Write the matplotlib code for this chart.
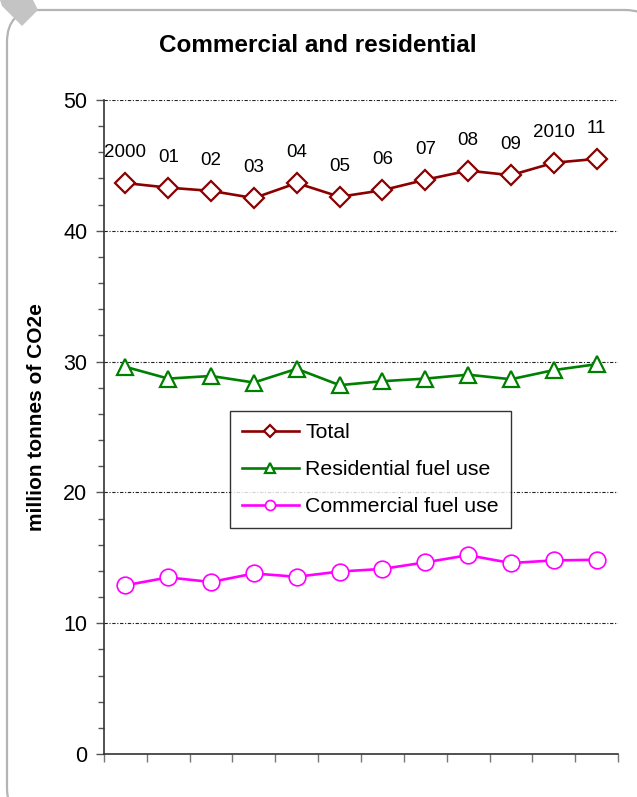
import matplotlib.pyplot as plt
import matplotlib.patches as patches
from matplotlib.ticker import MultipleLocator

# datos
years = ['2000', '01', '02', '03', '04', '05', '06', '07', '08', '09', '2010', '11']
total = [43.65, 43.3, 43.05, 42.5, 43.65, 42.6, 43.1, 43.9, 44.6, 44.25, 45.2, 45.5]
residential = [29.6, 28.7, 28.9, 28.4, 29.45, 28.2, 28.5, 28.7, 29.0, 28.65, 29.35, 29.8]
commercial = [12.9, 13.5, 13.15, 13.8, 13.55, 13.95, 14.15, 14.65, 15.2, 14.6, 14.8, 14.85]

plt.rcParams['font.family'] = ['Liberation Sans', 'DejaVu Sans']

fig = plt.figure(figsize=(6.37, 7.97), dpi=100)
fig.patch.set_facecolor('white')

# marco redondeado de fondo (coordenadas en pixeles)
bg = fig.add_axes([0, 0, 1, 1], zorder=0)
bg.set_xlim(0, 637)
bg.set_ylim(797, 0)
bg.axis('off')
frame = patches.FancyBboxPatch(
    (7, 10), 650, 810,
    boxstyle='round,pad=0,rounding_size=32',
    linewidth=1.6, edgecolor='#b4b4b4', facecolor='white'
)
bg.add_patch(frame)
corner = patches.Polygon([(0, 0), (33, 0), (38, 10), (22, 26), (2, 6)],
                         closed=True, facecolor='#c4c4c4', edgecolor='none')
bg.add_patch(corner)

ax = fig.add_axes([104 / 637, 1 - 754 / 797, 514 / 637, 654 / 797], zorder=1)
ax.patch.set_alpha(0)

x = list(range(len(years)))

ax.plot(x, total, color='#8b0000', lw=1.9, marker='D', ms=10,
        mfc='white', mec='#8b0000', mew=1.6, label='Total', zorder=4)
ax.plot(x, residential, color='#008000', lw=1.9, marker='^', ms=12,
        mfc='white', mec='#008000', mew=1.6, label='Residential fuel use', zorder=4)
ax.plot(x, commercial, color='#ff00ff', lw=1.9, marker='o', ms=12,
        mfc='white', mec='#ff00ff', mew=1.2, label='Commercial fuel use', zorder=4)

# etiquetas de los anos encima de la serie total
for i, lab in enumerate(years):
    ax.annotate(lab, (x[i], total[i]), xytext=(0, 22), textcoords='offset points',
                ha='center', va='center', fontsize=13.5)

ax.set_xlim(-0.5, len(years) - 0.5)
ax.set_ylim(0, 50)
ax.yaxis.set_major_locator(MultipleLocator(10))
ax.yaxis.set_minor_locator(MultipleLocator(2))
ax.set_xticks([i - 0.5 for i in range(len(years) + 1)])
ax.set_xticklabels([])

ax.grid(axis='y', which='major', color='#222222', lw=0.8,
        linestyle=(0, (3, 1.5, 1, 1.5)))
ax.set_axisbelow(True)

for s in ['top', 'right']:
    ax.spines[s].set_visible(False)
for s in ['left', 'bottom']:
    ax.spines[s].set_color('#333333')
    ax.spines[s].set_linewidth(1.2)

ax.tick_params(axis='y', which='major', direction='out', length=6, width=1,
               color='#555555', labelsize=15.5, pad=6)
ax.tick_params(axis='y', which='minor', direction='out', length=4, width=1,
               color='#555555')
ax.tick_params(axis='x', which='major', direction='out', length=6, width=1,
               color='#777777')

ax.set_ylabel('million tonnes of CO2e', fontsize=15, fontweight='bold')
ax.yaxis.set_label_coords(-0.113, 0.515)

fig.text(318 / 637, 1 - 46 / 797, 'Commercial and residential', ha='center',
         va='center', fontsize=17.5, fontweight='bold')

leg = ax.legend(loc='upper left', bbox_to_anchor=(0.245, 0.524), borderaxespad=0,
                fontsize=15.3, frameon=True, fancybox=False, handlelength=2.7,
                markerscale=0.6, labelspacing=0.85, borderpad=0.55,
                handletextpad=0.3)
leg.get_frame().set_edgecolor('black')
leg.get_frame().set_linewidth(1.0)

fig.savefig('out.png', dpi=100)
